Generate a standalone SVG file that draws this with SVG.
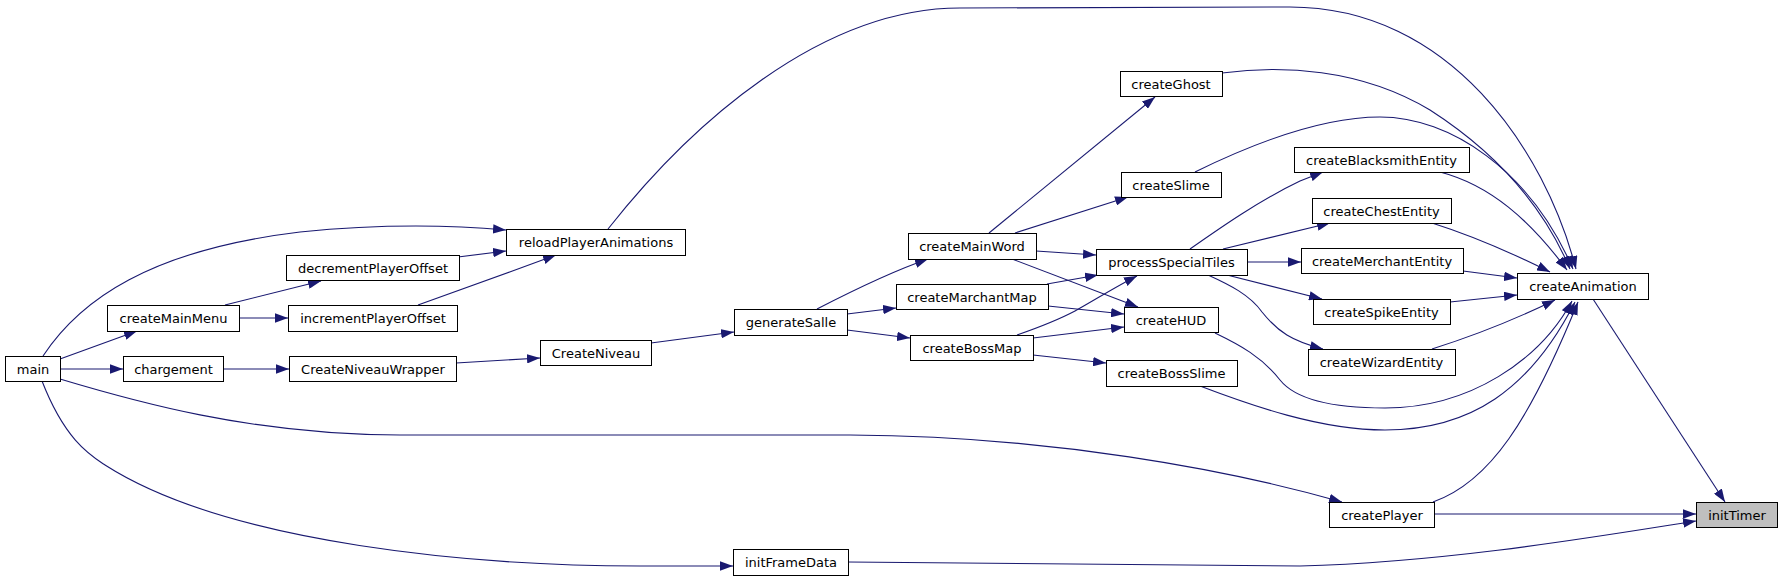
<svg xmlns="http://www.w3.org/2000/svg" width="1783" height="581" viewBox="0 0 1783 581">
<style>
.n rect{fill:#fff;stroke:#000;stroke-width:1}
.n text{font-family:"DejaVu Sans","Liberation Sans",sans-serif;font-size:13px;fill:#000;text-anchor:middle}
#initTimer rect{fill:#bfbfbf}
#edges path{fill:none;stroke:#191970;stroke-width:1.1;marker-end:url(#a)}
</style>
<defs>
<marker id="a" viewBox="0 0 13 9.4" refX="13" refY="4.7" markerWidth="13" markerHeight="9.4" markerUnits="userSpaceOnUse" orient="auto">
<path d="M0,0 L13,4.7 L0,9.4 z" fill="#191970"/>
</marker>
</defs>
<rect width="1783" height="581" fill="#fff"/>
<g id="edges">
<path d="M60,359 L137,331"/>
<path d="M60,369 L123,369"/>
<path d="M43,356 C80,300 150,250 300,232 C380,224 450,225 506,230"/>
<path d="M60,379 C130,400 250,435 400,435 L850,435 C1050,436 1230,470 1342,502"/>
<path d="M42,381 C65,440 90,455 105,465 C230,545 480,566 640,566 L733,566"/>
<path d="M225,305 L321,281"/>
<path d="M239,318 L288,318"/>
<path d="M223,369 L289,369"/>
<path d="M458,257 L506,251"/>
<path d="M418,305 C460,290 510,272 556,255"/>
<path d="M456,363 L540,358"/>
<path d="M651,343 L734,332"/>
<path d="M608,229 C690,125 820,8 960,8 L1290,7 C1450,7 1545,150 1576,269"/>
<path d="M1222,73 C1280,65 1360,68 1430,110 C1500,155 1545,210 1570,269"/>
<path d="M1195,172 C1250,145 1320,117 1380,117 C1450,117 1530,170 1573,269"/>
<path d="M989,233 L1155,97"/>
<path d="M1015,233 L1128,197"/>
<path d="M1036,251 L1096,255"/>
<path d="M1012,259 L1138,307"/>
<path d="M817,309 C850,292 890,272 928,259"/>
<path d="M847,314 L896,308"/>
<path d="M847,330 L910,338"/>
<path d="M1047,284 L1098,275"/>
<path d="M1048,306 L1124,314"/>
<path d="M1017,335 C1040,327 1058,320 1075,311 C1095,300 1115,287 1137,276"/>
<path d="M1033,338 L1124,327"/>
<path d="M1033,355 L1106,363"/>
<path d="M1190,249 C1220,228 1260,200 1300,181 L1323,172"/>
<path d="M1223,249 L1330,223"/>
<path d="M1247,262 L1301,262"/>
<path d="M1227,275 L1322,299"/>
<path d="M1208,275 C1230,285 1250,295 1262,312 C1278,332 1292,341 1323,349"/>
<path d="M1215,333 C1240,345 1262,357 1280,380 C1300,405 1350,408 1385,408 C1470,408 1540,360 1572,301"/>
<path d="M1200,386 C1250,405 1320,430 1385,430 C1470,430 1530,390 1575,302"/>
<path d="M1433,502 C1490,482 1530,420 1578,302"/>
<path d="M1593,299 L1725,502"/>
<path d="M1434,514 L1696,514"/>
<path d="M848,562 L1300,566 C1450,562 1600,536 1696,521"/>
<path d="M1440,172 C1490,185 1530,220 1567,270"/>
<path d="M1432,223 C1470,235 1510,252 1550,272"/>
<path d="M1463,271 L1517,278"/>
<path d="M1450,302 L1517,295"/>
<path d="M1432,349 C1470,337 1510,322 1555,300"/>
</g>
<g id="main" class="n"><rect x="5.5" y="356.5" width="55" height="25"/><text x="33" y="373.5">main</text></g>
<g id="createMainMenu" class="n"><rect x="107.5" y="305.5" width="132" height="26"/><text x="173.5" y="323">createMainMenu</text></g>
<g id="chargement" class="n"><rect x="123.5" y="356.5" width="100" height="25"/><text x="173.5" y="373.5">chargement</text></g>
<g id="decrementPlayerOffset" class="n"><rect x="286.5" y="255.5" width="173" height="25"/><text x="373" y="272.5">decrementPlayerOffset</text></g>
<g id="incrementPlayerOffset" class="n"><rect x="288.5" y="305.5" width="169" height="26"/><text x="373" y="323">incrementPlayerOffset</text></g>
<g id="CreateNiveauWrapper" class="n"><rect x="289.5" y="356.5" width="167" height="25"/><text x="373" y="373.5">CreateNiveauWrapper</text></g>
<g id="reloadPlayerAnimations" class="n"><rect x="506.5" y="229.5" width="179" height="26"/><text x="596" y="247">reloadPlayerAnimations</text></g>
<g id="CreateNiveau" class="n"><rect x="540.5" y="340.5" width="111" height="25"/><text x="596" y="357.5">CreateNiveau</text></g>
<g id="generateSalle" class="n"><rect x="734.5" y="309.5" width="113" height="26"/><text x="791" y="327">generateSalle</text></g>
<g id="createMainWord" class="n"><rect x="908.5" y="233.5" width="128" height="26"/><text x="972" y="251">createMainWord</text></g>
<g id="createMarchantMap" class="n"><rect x="896.5" y="284.5" width="152" height="25"/><text x="972" y="301.5">createMarchantMap</text></g>
<g id="createBossMap" class="n"><rect x="910.5" y="335.5" width="123" height="25"/><text x="972" y="352.5">createBossMap</text></g>
<g id="createGhost" class="n"><rect x="1120.5" y="71.5" width="102" height="25"/><text x="1171" y="88.5">createGhost</text></g>
<g id="createSlime" class="n"><rect x="1121.5" y="172.5" width="100" height="25"/><text x="1171" y="189.5">createSlime</text></g>
<g id="processSpecialTiles" class="n"><rect x="1096.5" y="249.5" width="151" height="26"/><text x="1171.5" y="267">processSpecialTiles</text></g>
<g id="createHUD" class="n"><rect x="1124.5" y="307.5" width="94" height="25"/><text x="1171" y="324.5">createHUD</text></g>
<g id="createBossSlime" class="n"><rect x="1106.5" y="360.5" width="131" height="26"/><text x="1171.5" y="378">createBossSlime</text></g>
<g id="createBlacksmithEntity" class="n"><rect x="1294.5" y="147.5" width="175" height="25"/><text x="1381.5" y="164.5">createBlacksmithEntity</text></g>
<g id="createChestEntity" class="n"><rect x="1312.5" y="198.5" width="139" height="25"/><text x="1381.5" y="215.5">createChestEntity</text></g>
<g id="createMerchantEntity" class="n"><rect x="1301.5" y="248.5" width="162" height="25"/><text x="1382" y="265.5">createMerchantEntity</text></g>
<g id="createSpikeEntity" class="n"><rect x="1313.5" y="299.5" width="137" height="25"/><text x="1381.5" y="316.5">createSpikeEntity</text></g>
<g id="createWizardEntity" class="n"><rect x="1308.5" y="349.5" width="147" height="26"/><text x="1381.5" y="367">createWizardEntity</text></g>
<g id="createAnimation" class="n"><rect x="1517.5" y="273.5" width="131" height="26"/><text x="1583" y="291">createAnimation</text></g>
<g id="createPlayer" class="n"><rect x="1329.5" y="502.5" width="105" height="25"/><text x="1382" y="519.5">createPlayer</text></g>
<g id="initTimer" class="n"><rect x="1696.5" y="502.5" width="81" height="25"/><text x="1737" y="519.5">initTimer</text></g>
<g id="initFrameData" class="n"><rect x="733.5" y="549.5" width="115" height="26"/><text x="791" y="567">initFrameData</text></g>
</svg>
